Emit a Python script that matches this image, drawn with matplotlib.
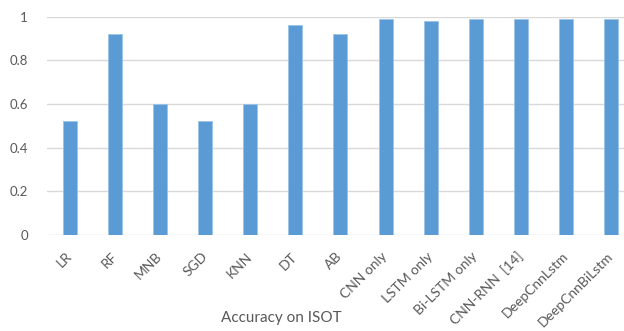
import numpy as np
import matplotlib.pyplot as plt

# accuracy of each model on the ISOT dataset
models = ['LR', 'RF', 'MNB', 'SGD', 'KNN', 'DT', 'AB', 'CNN only', 'LSTM only',
          'Bi-LSTM only', 'CNN-RNN  [14]', 'DeepCnnLstm', 'DeepCnnBiLstm']
accuracy = [0.52, 0.92, 0.60, 0.52, 0.60, 0.96, 0.92, 0.99, 0.98,
            0.99, 0.99, 0.99, 0.99]
yticks = [0, 0.2, 0.4, 0.6, 0.8, 1]

plt.rcParams['font.family'] = ['Lato', 'DejaVu Sans']
txt = '#595959'

fig = plt.figure(figsize=(6.24, 3.31), dpi=100)
ax = fig.add_axes([0.0761, 0.290, 0.939, 0.6596])

x = np.arange(len(models))
ax.bar(x, accuracy, width=0.31, color='#5b9bd5', edgecolor='#9cc3e6',
       linewidth=0.6, zorder=3)

ax.set_xlim(-0.5, len(models) - 0.5)
ax.set_ylim(0, 1)
ax.set_yticks(yticks)
ax.set_yticklabels([f'{v:g}' for v in yticks], color=txt, fontsize=9.5)
ax.yaxis.grid(True, color='#d9d9d9', linewidth=1.0, zorder=0)
ax.tick_params(axis='both', length=0)
ax.tick_params(axis='y', pad=14)
for s in ax.spines.values():
    s.set_visible(False)

ax.set_xticks(x)
ax.set_xticklabels(models, rotation=45, ha='right', va='center',
                   rotation_mode='anchor', color=txt, fontsize=10)
ax.tick_params(axis='x', pad=14)

fig.text(281 / 624, 1 - 318 / 331, 'Accuracy on ISOT', ha='center', va='center',
         color=txt, fontsize=11)

fig.savefig('out.png', dpi=100)
